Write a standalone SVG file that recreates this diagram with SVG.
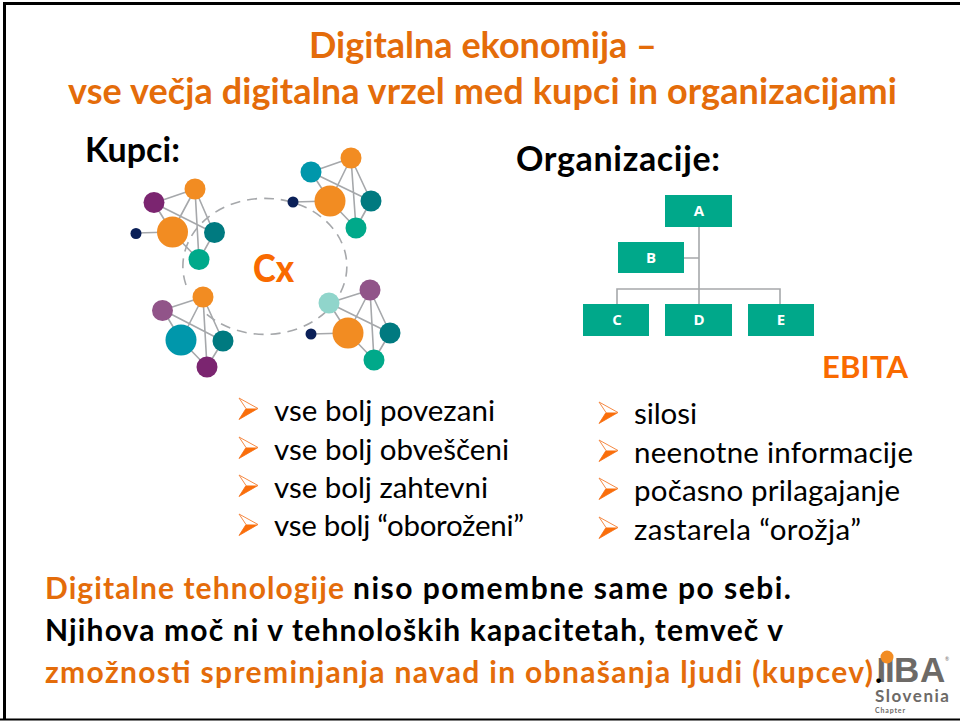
<svg xmlns="http://www.w3.org/2000/svg" width="960" height="721" viewBox="0 0 960 721">
<style>
text{font-family:Lato,"Open Sans",sans-serif}
.t{font-size:36px;font-weight:700;fill:#e46c0a}
.h{font-size:34px;font-weight:700;fill:#000}
.l{font-size:29.5px;fill:#000}
.b{font-size:30px;font-weight:700;fill:#000}
.o{font-size:30px;font-weight:700;fill:#e46c0a}
.e{stroke:#a6a8ab;stroke-width:1.6;fill:none}
.n{fill:#00a88a}
.nt{font-family:"Open Sans",sans-serif;font-size:15px;font-weight:700;fill:#fff;text-anchor:middle}
.or{fill:#f28c22}.pu{fill:#7b2570}.te{fill:#007a80}.gr{fill:#00a98a}.na{fill:#0b2058}.cy{fill:#0097ab}.lp{fill:#915489}.mi{fill:#90d5cb}
.g{fill:#6d6a67}
</style>
<defs>
<g id="arrow"><path d="M0 0L19 10.500L0 21.500L7 10.500Z" fill="#fff" stroke="#f58a45" stroke-width="1"/><path d="M0 21.500L19 10.500L7 10.500Z" fill="#fa6e0a"/></g>
</defs>
<rect width="960" height="721" fill="#fff"/>
<path d="M4.500 720V3.500H960" fill="none" stroke="#000" stroke-width="3"/>
<path d="M0 719.500H960" fill="none" stroke="#000" stroke-width="2"/>
<g id="title">
<text class="t" x="309" y="58" textLength="348">Digitalna ekonomija –</text>
<text class="t" x="68" y="104" textLength="829">vse večja digitalna vrzel med kupci in organizacijami</text>
</g>
<text class="h" x="85" y="162" textLength="95">Kupci:</text>
<text class="h" x="516" y="171" textLength="204">Organizacije:</text>
<g id="connectors">
<g id="ring"><path d="M186 285A82 68 0 1 1 203 311" fill="none" stroke="#a6a8ab" stroke-width="1.6" stroke-dasharray="10 7"/></g>
<g id="cluster-lines-1"><path class="e" d="M154 203L195 189M154 203L172 232M154 203L214 233M195 189L172 232M195 189L199 260M195 189L214 233M172 232L199 260M214 233L199 260M136 233L172 232"/></g>
<g id="cluster-lines-2"><path class="e" d="M311 172L351 158M311 172L330 201M311 172L371 201M351 158L330 201M351 158L356 228M351 158L371 201M330 201L356 228M371 201L356 228M293 202L330 201"/></g>
<g id="cluster-lines-3"><path class="e" d="M163 310L203 297M163 310L181 340M163 310L223 341M203 297L181 340M203 297L207 367M203 297L223 341M181 340L207 367M223 341L207 367"/></g>
<g id="cluster-lines-4"><path class="e" d="M329 303L370 290M329 303L348 333M329 303L390 333M370 290L348 333M370 290L374 360M370 290L390 333M348 333L374 360M390 333L374 360M311 334L348 333"/></g>
<g id="org-lines"><path class="e" d="M699 227V304M684 258H699M617 304V289H780V304"/></g>
</g>
<g id="cluster-1"><circle class="na" cx="136" cy="233.500" r="5.500"/><circle class="pu" cx="154" cy="202.500" r="10.500"/><circle class="or" cx="195" cy="189" r="10.500"/><circle class="or" cx="172.500" cy="232" r="15.500"/><circle class="te" cx="214.500" cy="232.500" r="10.500"/><circle class="gr" cx="199" cy="259.500" r="10.500"/></g>
<g id="cluster-2"><circle class="na" cx="293" cy="202" r="5.500"/><circle class="cy" cx="311" cy="172" r="10.500"/><circle class="or" cx="351" cy="158" r="10.500"/><circle class="or" cx="330" cy="201" r="15.500"/><circle class="te" cx="371" cy="201" r="10.500"/><circle class="gr" cx="356" cy="228" r="10.500"/></g>
<g id="cluster-3"><circle class="lp" cx="162.500" cy="310.500" r="10.500"/><circle class="or" cx="203" cy="297" r="10.500"/><circle class="cy" cx="181" cy="340" r="15.500"/><circle class="te" cx="223" cy="341" r="10.500"/><circle class="pu" cx="207" cy="367" r="10.500"/></g>
<g id="cluster-4"><circle class="na" cx="311" cy="334" r="5.500"/><circle class="mi" cx="329" cy="303" r="10.500"/><circle class="lp" cx="370" cy="290" r="10.500"/><circle class="or" cx="348" cy="333" r="15.500"/><circle class="te" cx="390" cy="333" r="10.500"/><circle class="gr" cx="374" cy="360" r="10.500"/></g>
<text id="cx" x="253" y="282" font-size="38" font-weight="900" fill="#f96a00" textLength="41" lengthAdjust="spacingAndGlyphs">Cx</text>
<g id="node-a"><rect class="n" x="665" y="195" width="67" height="32"/><text class="nt" x="699" y="216">A</text></g>
<g id="node-b"><rect class="n" x="618" y="242" width="66" height="31"/><text class="nt" x="651" y="262.500">B</text></g>
<g id="node-c"><rect class="n" x="583" y="304" width="66" height="32"/><text class="nt" x="617" y="325">C</text></g>
<g id="node-d"><rect class="n" x="665" y="304" width="67" height="32"/><text class="nt" x="699" y="325">D</text></g>
<g id="node-e"><rect class="n" x="748" y="304" width="66" height="32"/><text class="nt" x="781" y="325">E</text></g>
<text x="822" y="378" font-size="31" font-weight="700" fill="#f96a00" textLength="86">EBITA</text>
<g id="list-left">
<use href="#arrow" x="239" y="398"/><text class="l" x="274" y="421" textLength="221">vse bolj povezani</text>
<use href="#arrow" x="239" y="437"/><text class="l" x="274" y="460" textLength="235">vse bolj obveščeni</text>
<use href="#arrow" x="239" y="475"/><text class="l" x="274" y="498" textLength="214">vse bolj zahtevni</text>
<use href="#arrow" x="239" y="514"/><text class="l" x="274" y="536" textLength="250">vse bolj “oboroženi”</text>
</g>
<g id="list-right">
<use href="#arrow" x="599" y="402"/><text class="l" x="634" y="424" textLength="63">silosi</text>
<use href="#arrow" x="599" y="440"/><text class="l" x="634" y="463" textLength="279">neenotne informacije</text>
<use href="#arrow" x="599" y="478"/><text class="l" x="634" y="501" textLength="266">počasno prilagajanje</text>
<use href="#arrow" x="599" y="517"/><text class="l" x="634" y="540" textLength="227">zastarela “orožja”</text>
</g>
<g id="footer">
<text class="o" x="45" y="599" textLength="299">Digitalne tehnologije</text>
<text class="b" x="353" y="599" textLength="438">niso pomembne same po sebi.</text>
<text class="b" x="45" y="641" textLength="738">Njihova moč ni v tehnoloških kapacitetah, temveč v</text>
<text class="o" x="45" y="683" textLength="828">zmožnosti spreminjanja navad in obnašanja ljudi (kupcev)</text>
</g>
<g id="logo">
<text y="682" x="876.500 885 894 920" font-size="35" font-weight="700" class="g" style="font-family:'Liberation Sans',sans-serif">IIBA</text>
<circle cx="887" cy="657" r="6.500" fill="#f28c22"/>
<text x="945" y="661" font-size="5" class="g">®</text>
<text x="875" y="702" font-size="17" font-weight="700" class="g" textLength="74">Slovenia</text>
<text x="875" y="712.500" font-size="7" font-weight="700" class="g" textLength="30">Chapter</text>
</g>
<text class="b" x="875" y="683">.</text>
</svg>
